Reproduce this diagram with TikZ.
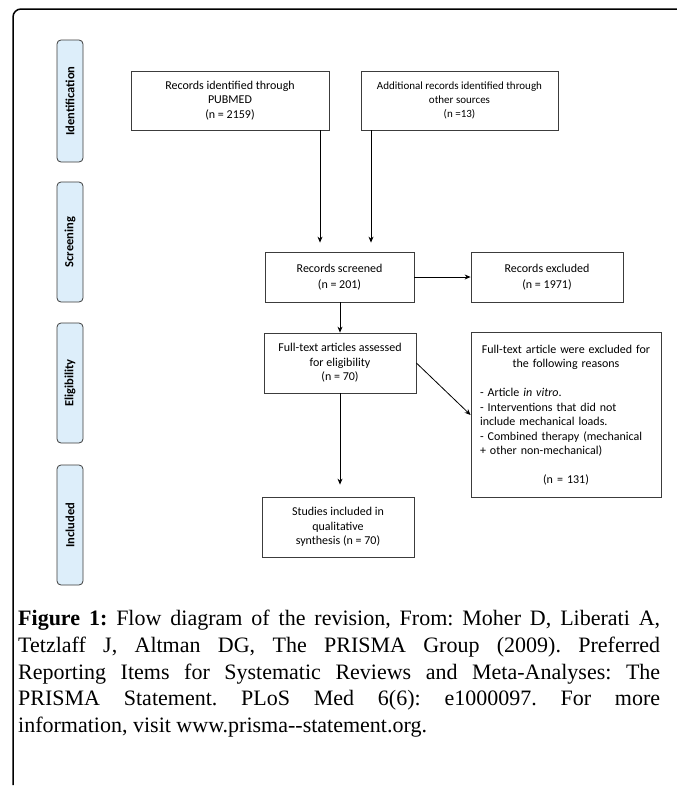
\documentclass[tikz,border=0pt]{standalone}
\usepackage{fontspec}
\setmainfont{Liberation Serif}
\newfontfamily\boxfont{Carlito}
\usetikzlibrary{arrows.meta}
\definecolor{phasefill}{RGB}{221,238,250}
\definecolor{boxline}{RGB}{60,60,60}
\frenchspacing

\begin{document}
\begin{tikzpicture}[x=1pt, y=-1pt, >={Stealth[length=6pt,width=5pt]},
    every node/.style={font=\boxfont\fontsize{12}{14.5}\selectfont},
    box/.style={draw=boxline, line width=0.8pt, align=center, inner sep=0pt},
    phase/.style={draw=boxline, fill=phasefill, line width=0.8pt, rounded corners=4pt,
        rotate=90, minimum width=120pt, minimum height=26pt, inner sep=0pt,
        font=\boxfont\bfseries\fontsize{12.5}{14}\selectfont}]
                \useasboundingbox (0,0) rectangle (677,787);
                \draw[line width=1.5pt, rounded corners=8pt] (13,785) -- (13,9) -- (680,9);

                % phases
                \node[phase, minimum width=122pt] (ident) at (70,101) {Identification};
                \node[phase] (screen) at (70,242) {Screening};
                \node[phase] (elig) at (70,383) {Eligibility};
                \node[phase] (incl) at (70,525) {Included};

                % flow
                \node[box, minimum width=198pt, minimum height=59pt] (pubmed) at (230,100.5)
                    {Records identified through\\PUBMED\\(n = 2159)};
                \node[box, minimum width=197pt, minimum height=59pt,
                    font=\boxfont\fontsize{11}{14}\selectfont] (other) at (459.5,100.5)
                    {Additional records identified through\\other sources\\(n =13)};
                \node[box, minimum width=149pt, minimum height=50pt,
                    font=\boxfont\fontsize{12}{16}\selectfont] (screened) at (339.5,277)
                    {Records screened\\(n = 201)};
                \node[box, minimum width=152pt, minimum height=50pt,
                    font=\boxfont\fontsize{12}{16}\selectfont] (excluded) at (547,277)
                    {Records excluded\\(n = 1971)};
                \node[box, minimum width=152pt, minimum height=60pt] (fulltext) at (340,363)
                    {Full-text articles assessed\\for eligibility\\(n = 70)};
                \node[box, minimum width=190pt, minimum height=165pt, text width=172pt,
                    align=left] (reasons) at (566,415)
                    {\centering Full-text article were excluded for\\the following reasons\par
                     \mbox{}\par
                     \raggedright - Article \textit{in vitro}.\\- Interventions that did not\\include mechanical loads.\\- Combined therapy (mechanical\\+ other non-mechanical)\par
                     \mbox{}\par
                     \centering (n = 131)\par};
                \node[box, minimum width=152pt, minimum height=60pt] (studies) at (338,527)
                    {Studies included in\\qualitative\\synthesis (n = 70)};

                \draw[->, line width=0.8pt, shorten >=9pt] ([xshift=90pt]pubmed.south) -- ([xshift=90pt]pubmed.south |- screened.north);
                \draw[->, line width=0.8pt, shorten >=9pt] ([xshift=-88.5pt]other.south) -- ([xshift=-88.5pt]other.south |- screened.north);
                \draw[->, line width=0.8pt] (screened) -- (excluded);
                \draw[->, line width=0.8pt] (screened.south -| fulltext) -- (fulltext.north);
                \draw[->, line width=0.8pt] (fulltext.east) -- (reasons.west);
                \draw[->, line width=0.8pt, shorten >=12pt] (fulltext.south) -- (fulltext.south |- studies.north);

                % caption
                \node[anchor=north west, text width=642pt, align=justify, inner sep=0pt,
                    font=\rmfamily\fontsize{22}{26.7}\selectfont] (caption) at (18,610)
                    {\textbf{Figure 1:} Flow diagram of the revision, From: Moher D, Liberati A,\linebreak
                     Tetzlaff J, Altman DG, The PRISMA Group (2009). Preferred\linebreak
                     Reporting Items for Systematic Reviews and Meta-Analyses: The\linebreak
                     PRISMA Statement. PLoS Med 6(6): e1000097. For more\linebreak
                     information, visit www.prisma-{}-statement.org.};
            \end{tikzpicture}
\end{document}
